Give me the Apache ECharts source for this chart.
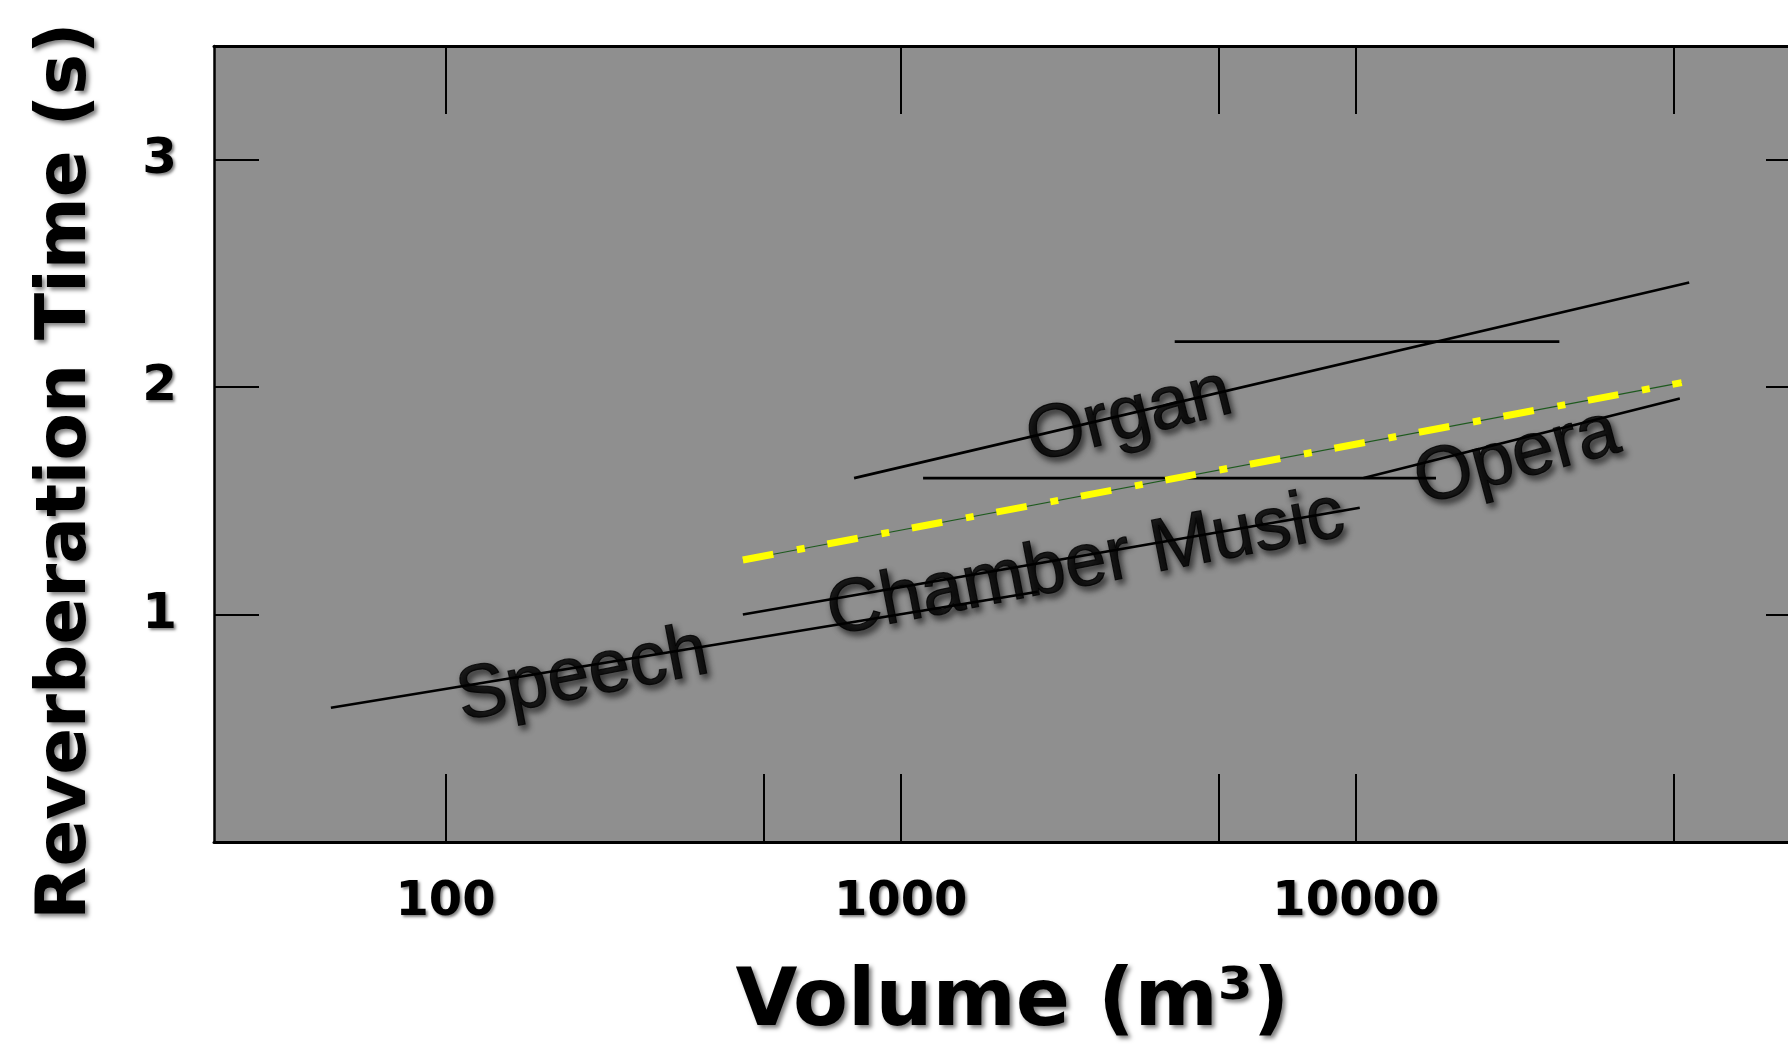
<!DOCTYPE html>
<html>
<head>
<meta charset="utf-8">
<title>Reverberation time vs volume</title>
<script src="https://cdn.jsdelivr.net/npm/echarts@6/dist/echarts.min.js"></script>
<style>
  html, body { margin: 0; padding: 0; background: #fff; }
  #main { width: 1788px; height: 1055px; }
</style>
</head>
<body>
<div id="main"></div>
<script>
  // axis ticks / labels
  const xTickVals = [100, 500, 1000, 5000, 10000, 50000];
  const xTopTickVals = [100, 1000, 5000, 10000, 50000];
  const xLabelVals = [100, 1000, 10000];
  const yTickVals = [1, 2, 3];

  // segments: volume (m3) and reverberation time (s)
  const speechVol = [56, 2000];
  const speechRt = [0.59, 1.10];
  const chamberVol = [450, 10200];
  const chamberRt = [1.0, 1.47];
  const operaVol = [10400, 51500];
  const operaRt = [1.6, 1.95];
  const organVol = [790, 54000];
  const organRt = [1.6, 2.46];
  const flatLowVol = [1120, 15000];
  const flatLowRt = [1.6, 1.6];
  const flatHighVol = [4000, 28000];
  const flatHighRt = [2.2, 2.2];
  const fitVol = [450, 52000];
  const fitRt = [1.24, 2.02];

  // text labels on the plot
  const tagText = ['Speech', 'Chamber Music', 'Organ', 'Opera'];
  const tagVol = [200, 2550, 3180, 22600];
  const tagRt = [0.73, 1.22, 1.87, 1.69];

  const AXIS_FONT = "'Comic Sans MS', 'DejaVu Sans', sans-serif";
  const tagAngle = { 'Speech': 11, 'Chamber Music': 11, 'Organ': 14, 'Opera': 15 };

  function pairs(xs, ys) {
    return xs.map((x, i) => [x, ys[i]]);
  }

  // plain black segment
  function segment(name, xs, ys) {
    return {
      name: name,
      type: 'line',
      data: pairs(xs, ys),
      symbol: 'none',
      silent: true,
      z: 3,
      lineStyle: { color: '#000', width: 2.6 }
    };
  }

  const chart = echarts.init(document.getElementById('main'));

  const tickStyle = { color: '#000', width: 2 };
  const labelShadow = {
    textShadowColor: 'rgba(0,0,0,0.5)',
    textShadowBlur: 3,
    textShadowOffsetX: 2,
    textShadowOffsetY: 2
  };

  chart.setOption({
    animation: false,
    backgroundColor: '#fff',
    grid: {
      left: 214,
      right: -23,
      top: 46,
      bottom: 213,
      show: true,
      backgroundColor: '#8f8f8f',
      borderWidth: 0,
      outerBoundsMode: 'none'
    },
    xAxis: [
      {
        type: 'log',
        min: 31,
        max: 100000,
        position: 'bottom',
        axisLine: { show: true, onZero: false, lineStyle: { color: '#000', width: 3 } },
        axisTick: { show: true, inside: true, length: 68, lineStyle: tickStyle, customValues: xTickVals },
        axisLabel: Object.assign({
          customValues: xLabelVals,
          formatter: v => String(Math.round(v)),
          margin: 37,
          fontFamily: AXIS_FONT,
          fontWeight: 'bold',
          fontSize: 48,
          color: '#000'
        }, labelShadow),
        minorTick: { show: false },
        splitLine: { show: false },
        name: 'Volume (m³)',
        nameLocation: 'middle',
        nameGap: 122,
        nameTextStyle: {
          fontFamily: AXIS_FONT,
          fontWeight: 'bold',
          fontSize: 80,
          color: '#000',
          textShadowColor: 'rgba(0,0,0,0.5)',
          textShadowBlur: 4,
          textShadowOffsetX: 3,
          textShadowOffsetY: 3
        }
      },
      {
        type: 'log',
        min: 31,
        max: 100000,
        position: 'top',
        axisLine: { show: true, onZero: false, lineStyle: { color: '#000', width: 3 } },
        axisTick: { show: true, inside: true, length: 68, lineStyle: tickStyle, customValues: xTopTickVals },
        axisLabel: { show: false },
        splitLine: { show: false }
      }
    ],
    yAxis: [
      {
        type: 'value',
        min: 0,
        max: 3.5,
        position: 'left',
        axisLine: { show: true, onZero: false, lineStyle: { color: '#000', width: 2.5 } },
        axisTick: { show: true, inside: true, length: 45, lineStyle: tickStyle, customValues: yTickVals },
        axisLabel: Object.assign({
          customValues: yTickVals,
          margin: 37,
          fontFamily: AXIS_FONT,
          fontWeight: 'bold',
          fontSize: 50,
          color: '#000'
        }, labelShadow),
        splitLine: { show: false },
        name: 'Reverberation Time (s)',
        nameLocation: 'middle',
        nameRotate: 90,
        nameGap: 112,
        nameTextStyle: {
          fontFamily: AXIS_FONT,
          fontWeight: 'bold',
          fontSize: 69,
          color: '#000',
          padding: [0, 54, 0, 0],
          textShadowColor: 'rgba(0,0,0,0.5)',
          textShadowBlur: 4,
          textShadowOffsetX: 3,
          textShadowOffsetY: 3
        }
      },
      {
        type: 'value',
        min: 0,
        max: 3.5,
        position: 'right',
        axisLine: { show: false, onZero: false },
        axisTick: { show: true, inside: true, length: 45, lineStyle: tickStyle, customValues: yTickVals },
        axisLabel: { show: false },
        splitLine: { show: false }
      }
    ],
    series: [
      segment('Speech', speechVol, speechRt),
      segment('Chamber Music', chamberVol, chamberRt),
      segment('Opera', operaVol, operaRt),
      segment('Organ', organVol, organRt),
      segment('flat 1.6', flatLowVol, flatLowRt),
      segment('flat 2.2', flatHighVol, flatHighRt),
      {
        // thin green line under the dash-dot
        name: 'fit base',
        type: 'line',
        data: pairs(fitVol, fitRt),
        symbol: 'none',
        silent: true,
        z: 4,
        lineStyle: { color: '#1e5a1e', width: 1.2 }
      },
      {
        name: 'fit',
        type: 'line',
        data: pairs(fitVol, fitRt),
        symbol: 'none',
        silent: true,
        z: 5,
        lineStyle: { color: '#ffff00', width: 7, type: [31, 24, 8, 23], cap: 'butt' }
      },
      {
        name: 'tags',
        type: 'scatter',
        symbolSize: 0,
        silent: true,
        z: 6,
        data: tagText.map((t, i) => ({
          value: [tagVol[i], tagRt[i]],
          label: { formatter: t, rotate: tagAngle[t] }
        })),
        label: {
          show: true,
          position: 'inside',
          fontFamily: "'Liberation Sans', Arial, sans-serif",
          fontSize: 75,
          color: '#000',
          textBorderColor: '#000',
          textBorderWidth: 1.2,
          textShadowColor: 'rgba(0,0,0,0.8)',
          textShadowBlur: 6,
          textShadowOffsetX: 3,
          textShadowOffsetY: 4
        }
      }
    ]
  });
</script>
</body>
</html>
